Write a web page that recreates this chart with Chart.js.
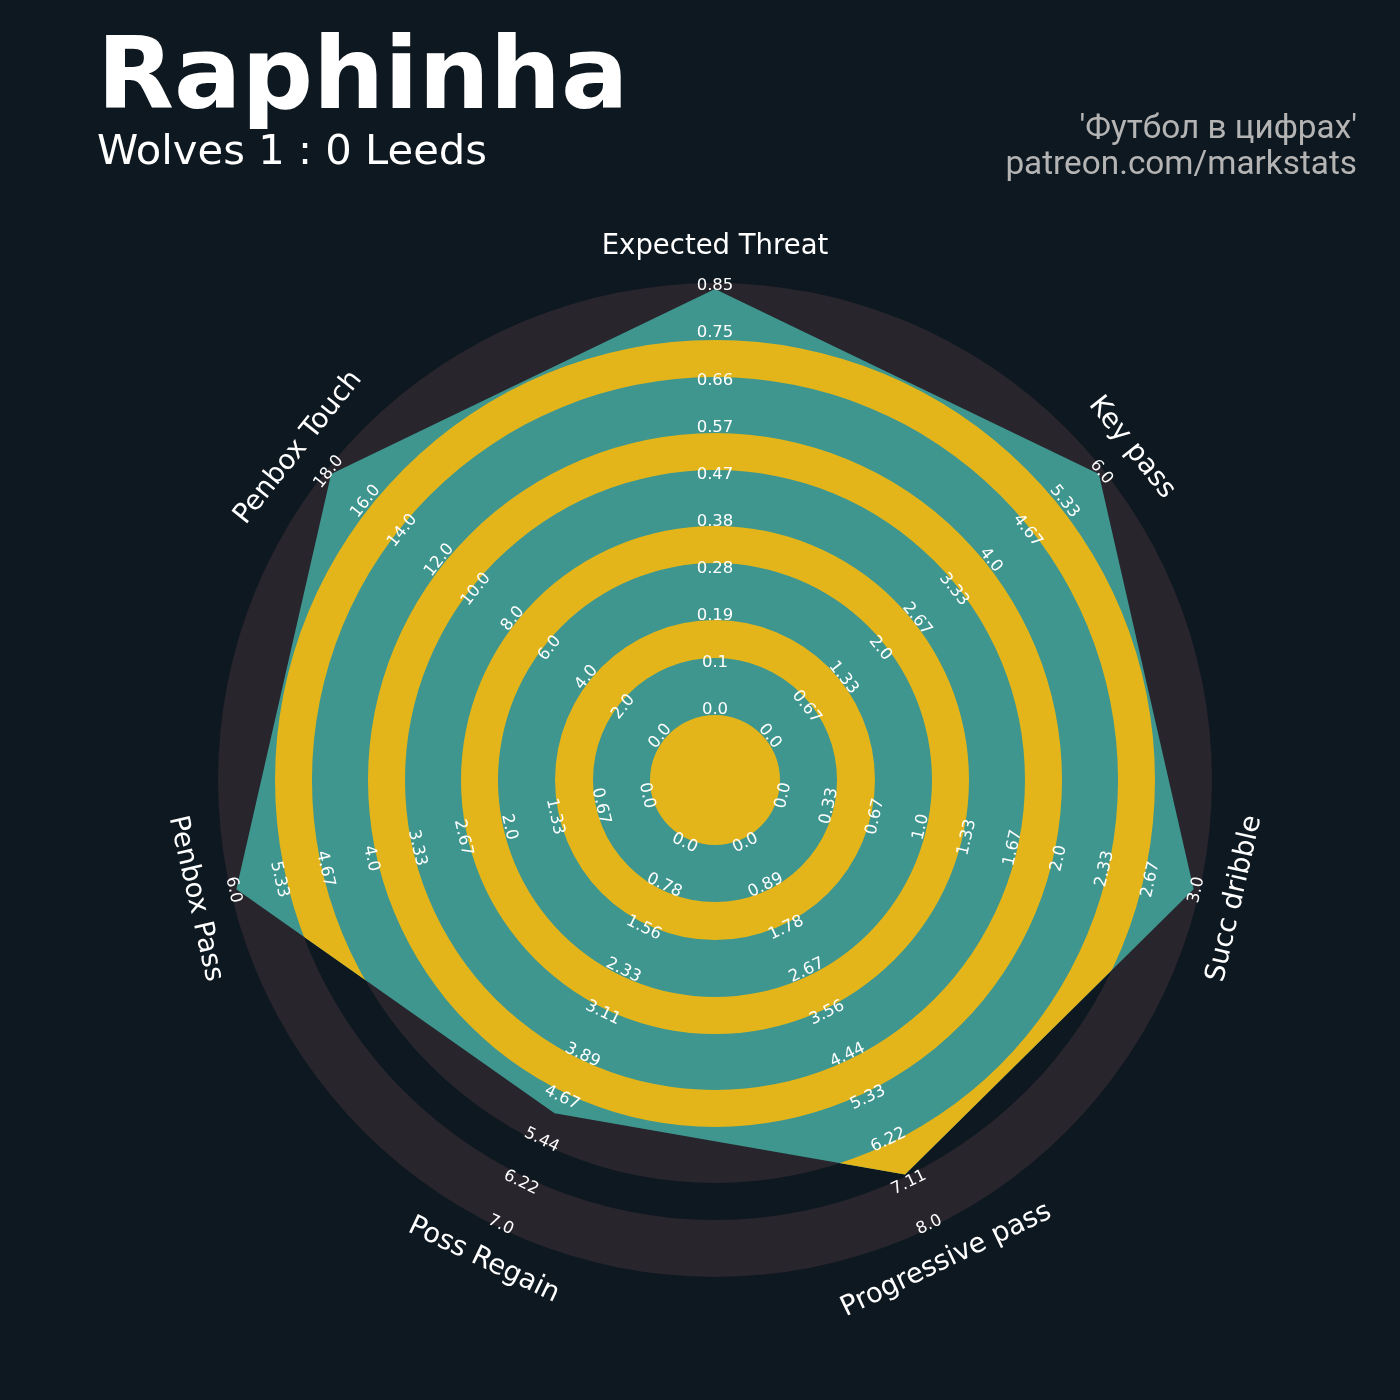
<!DOCTYPE html>
<html lang="en">
<head>
<meta charset="UTF-8">
<title>Raphinha - Wolves 1 : 0 Leeds</title>
<script src="https://cdn.jsdelivr.net/npm/chart.js"></script>
<style>
    html, body { margin: 0; padding: 0; background: #0e1820; }
    #wrap { width: 1400px; height: 1400px; position: relative; }
</style>
</head>
<body>
<div id="wrap"><canvas id="radar" width="1400" height="1400"></canvas></div>
<script>
// --- data ---
const params = ['Expected Threat', 'Key pass', 'Succ dribble', 'Progressive pass', 'Poss Regain', 'Penbox Pass', 'Penbox Touch'];
const lowRange = [0, 0, 0, 0, 0, 0, 0];
const highRange = [0.85, 6, 3, 8, 7, 6, 18];
const playerValues = [0.85, 6, 3, 7, 5, 6, 18];

const tickLabels = [
    ['0.0', '0.1', '0.19', '0.28', '0.38', '0.47', '0.57', '0.66', '0.75', '0.85'],
    ['0.0', '0.67', '1.33', '2.0', '2.67', '3.33', '4.0', '4.67', '5.33', '6.0'],
    ['0.0', '0.33', '0.67', '1.0', '1.33', '1.67', '2.0', '2.33', '2.67', '3.0'],
    ['0.0', '0.89', '1.78', '2.67', '3.56', '4.44', '5.33', '6.22', '7.11', '8.0'],
    ['0.0', '0.78', '1.56', '2.33', '3.11', '3.89', '4.67', '5.44', '6.22', '7.0'],
    ['0.0', '0.67', '1.33', '2.0', '2.67', '3.33', '4.0', '4.67', '5.33', '6.0'],
    ['0.0', '2.0', '4.0', '6.0', '8.0', '10.0', '12.0', '14.0', '16.0', '18.0']
];

const playerName = 'Raphinha';
const matchTitle = 'Wolves 1 : 0 Leeds';
const creditLines = ["'Футбол в цифрах'", 'patreon.com/markstats'];

// --- style ---
const BG = '#0e1820';
const RING_DARK = '#28252c';
const TEAL = '#3e968f';
const YELLOW = '#e3b51a';
// ring edges as fraction of the outer radius
const yellowBands = [[0, 0.1308], [0.2455, 0.3219], [0.4366, 0.5111], [0.6237, 0.6982], [0.8109, 0.8853]];
const darkBands = [[0.1308, 0.2455], [0.3219, 0.4366], [0.5111, 0.6237], [0.6982, 0.8109], [0.8853, 1]];

// normalised 0..1 per axis
const normValues = playerValues.map((v, i) => (v - lowRange[i]) / (highRange[i] - lowRange[i]));

function ringPath(ctx, x, y, r0, r1) {
    ctx.beginPath();
    ctx.arc(x, y, r1, 0, Math.PI * 2);
    if (r0 > 0) {
        ctx.moveTo(x + r0, y);
        ctx.arc(x, y, r0, 0, Math.PI * 2, true);
    }
}

function textRotation(theta) {
    return (theta > Math.PI / 2 && theta < Math.PI * 1.5) ? theta - Math.PI : theta;
}

const radarDeco = {
    id: 'radarDeco',
    beforeDatasetsDraw(chart) {
        const s = chart.scales.r;
        const ctx = chart.ctx;
        ctx.save();
        ctx.fillStyle = RING_DARK;
        darkBands.forEach(([a, b]) => {
            ringPath(ctx, s.xCenter, s.yCenter, a * s.drawingArea, b * s.drawingArea);
            ctx.fill();
        });
        ctx.restore();
    },
    afterDatasetsDraw(chart) {
        const s = chart.scales.r;
        const ctx = chart.ctx;
        const pts = chart.getDatasetMeta(0).data;

        // yellow rings only inside the player polygon
        ctx.save();
        ctx.beginPath();
        pts.forEach((p, i) => i ? ctx.lineTo(p.x, p.y) : ctx.moveTo(p.x, p.y));
        ctx.closePath();
        ctx.clip();
        ctx.fillStyle = YELLOW;
        yellowBands.forEach(([a, b]) => {
            ringPath(ctx, s.xCenter, s.yCenter, a * s.drawingArea, b * s.drawingArea);
            ctx.fill();
        });
        ctx.restore();

        // range labels along each spoke
        ctx.save();
        ctx.fillStyle = '#ffffff';
        ctx.textAlign = 'center';
        ctx.textBaseline = 'middle';
        ctx.font = '16.5px "DejaVu Sans"';
        params.forEach((p, i) => {
            const theta = s.getIndexAngle(i);
            const rot = textRotation(theta);
            tickLabels[i].forEach((t, k) => {
                const u = k / (tickLabels[i].length - 1);
                const pos = s.getPointPosition(i, s.getDistanceFromCenterForValue(u) + 3);
                ctx.save();
                ctx.translate(pos.x, pos.y);
                ctx.rotate(rot);
                ctx.fillText(t, 0, 0);
                ctx.restore();
            });
        });

        // parameter names
        ctx.font = '27.5px "DejaVu Sans"';
        params.forEach((p, i) => {
            const theta = s.getIndexAngle(i);
            const pos = s.getPointPosition(i, s.drawingArea + 36);
            ctx.save();
            ctx.translate(pos.x, pos.y);
            ctx.rotate(textRotation(theta));
            ctx.fillText(p, 0, 0);
            ctx.restore();
        });
        ctx.restore();

        // titles
        ctx.save();
        ctx.fillStyle = '#ffffff';
        ctx.textAlign = 'left';
        ctx.textBaseline = 'alphabetic';
        ctx.font = 'bold 100px "DejaVu Sans"';
        ctx.fillText(playerName, 97, 108);
        ctx.font = '41.7px "DejaVu Sans"';
        ctx.fillText(matchTitle, 97, 164);
        ctx.textAlign = 'right';
        ctx.fillStyle = '#b4b4b4';
        ctx.font = '33.3px Roboto';
        ctx.fillText(creditLines[0], 1357, 138);
        ctx.fillText(creditLines[1], 1357, 174);
        ctx.restore();
    }
};

new Chart(document.getElementById('radar'), {
    type: 'radar',
    data: {
        labels: params,
        datasets: [{
            data: normValues,
            backgroundColor: TEAL,
            borderWidth: 0,
            borderColor: TEAL,
            pointRadius: 0,
            fill: 'start'
        }]
    },
    options: {
        responsive: false,
        animation: false,
        devicePixelRatio: 1,
        layout: { padding: { left: 218, right: 188, top: 283, bottom: 123 } },
        plugins: { legend: { display: false }, tooltip: { enabled: false } },
        scales: {
            r: {
                min: -0.158,
                max: 1.0142,
                ticks: { display: false },
                grid: { display: false },
                angleLines: { display: false },
                pointLabels: { display: false }
            }
        }
    },
    plugins: [radarDeco]
});
</script>
</body>
</html>
